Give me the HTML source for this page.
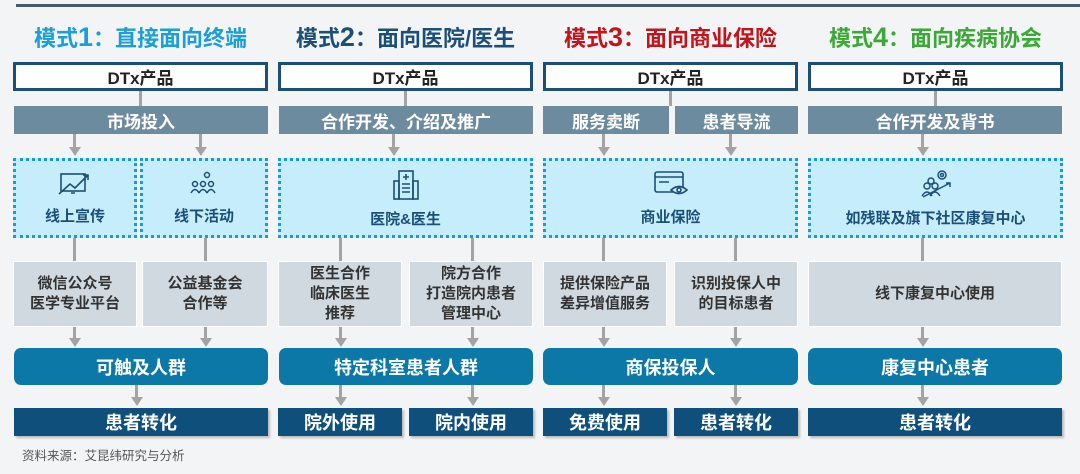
<!DOCTYPE html>
<html><head><meta charset="utf-8"><style>
*{margin:0;padding:0;box-sizing:border-box}
body{width:1080px;height:474px;background:#f3f4f6;position:relative;overflow:hidden;font-family:"Liberation Sans","Noto Sans CJK SC",sans-serif;font-weight:bold}
.a{position:absolute;display:flex;align-items:center;justify-content:center;text-align:center}
.t{font-size:22px;top:22px;height:30px}
.dtx{top:62px;height:29px;background:#fff;border:3px solid #1c4f78;color:#222;font-size:17px}
.g{top:106px;height:28px;background:#6c8b9f;color:#fff;font-size:17px}
.d{top:158px;height:80px;background:#c6edfc;border:3px dotted #1a9bd7;color:#1c4f78;font-size:15px;flex-direction:column}
.d svg{margin-bottom:8px}
.l{top:261px;height:66px;background:#cfd9df;border:1.5px solid #fff;color:#333;font-size:15px;line-height:20px}
.r{top:348px;height:37px;background:#0b78a7;border-radius:7px;color:#fff;font-size:18px}
.k{top:408px;height:28px;background:#0e4f7c;color:#fff;font-size:18px;box-shadow:2px 2px 2px #bbb}
.v{position:absolute;width:3px;background:#a3a3a3}
.h{position:absolute;width:0;height:0;border-left:6px solid transparent;border-right:6px solid transparent;border-top:9px solid #a3a3a3}
</style></head><body>
<div style="position:absolute;left:16px;top:4px;width:1064px;height:3px;background:#4a5a68"></div>

<div class="a t" style="left:13px;width:255px;color:#1a9fd9">模式<span style="font-size:27px">1</span>：直接面向终端</div>
<div class="a t" style="left:278px;width:255px;color:#1c4f78">模式<span style="font-size:27px">2</span>：面向医院/医生</div>
<div class="a t" style="left:543px;width:255px;color:#c3141c">模式<span style="font-size:27px">3</span>：面向商业保险</div>
<div class="a t" style="left:808px;width:255px;color:#3aa935">模式<span style="font-size:27px">4</span>：面向疾病协会</div>

<div class="a dtx" style="left:13px;width:255px">DTx产品</div>
<div class="a dtx" style="left:278px;width:255px">DTx产品</div>
<div class="a dtx" style="left:543px;width:255px">DTx产品</div>
<div class="a dtx" style="left:808px;width:255px">DTx产品</div>

<div class="v" style="left:139px;top:91px;height:15px"></div>
<div class="v" style="left:404px;top:91px;height:15px"></div>
<div class="v" style="left:669px;top:91px;height:15px"></div>
<div class="v" style="left:934px;top:91px;height:15px"></div>

<div class="a g" style="left:14px;width:254px">市场投入</div>
<div class="a g" style="left:279px;width:254px">合作开发、介绍及推广</div>
<div class="a g" style="left:543px;width:126px">服务卖断</div>
<div class="a g" style="left:675px;width:123px">患者导流</div>
<div class="a g" style="left:808px;width:254px">合作开发及背书</div>

<div class="v" style="left:73px;top:134px;height:14px"></div><div class="h" style="left:68.5px;top:147px"></div>
<div class="v" style="left:199px;top:134px;height:14px"></div><div class="h" style="left:194.5px;top:147px"></div>
<div class="v" style="left:392px;top:134px;height:14px"></div><div class="h" style="left:387.5px;top:147px"></div>
<div class="v" style="left:602px;top:134px;height:14px"></div><div class="h" style="left:597.5px;top:147px"></div>
<div class="v" style="left:729px;top:134px;height:14px"></div><div class="h" style="left:724.5px;top:147px"></div>
<div class="v" style="left:921px;top:134px;height:14px"></div><div class="h" style="left:916.5px;top:147px"></div>

<div class="a d" style="left:13px;width:124px">
<svg width="34" height="26" viewBox="0 0 34 26" fill="none" stroke="#1c4f78" stroke-width="1.6"><rect x="3" y="3" width="24" height="17"/><path d="M1 23 L12 13 L17 17 L30 4 M25 4 L30 4 L30 9 M13 22 L17 22"/></svg>线上宣传</div>
<div class="a d" style="left:140px;width:128px">
<svg width="32" height="26" viewBox="0 0 32 26" fill="none" stroke="#1c4f78" stroke-width="1.5"><circle cx="19" cy="4" r="2.5"/><circle cx="7" cy="13" r="2.5"/><circle cx="15" cy="13" r="2.5"/><circle cx="23" cy="13" r="2.5"/><path d="M3 22 Q7 15 11 22 M11 22 Q15 15 19 22 M19 22 Q23 15 27 22"/></svg>线下活动</div>
<div class="a d" style="left:278px;width:255px">
<svg width="28" height="32" viewBox="0 0 28 32" fill="none" stroke="#1c4f78" stroke-width="1.6"><rect x="7" y="3" width="14" height="28"/><rect x="2" y="13" width="5" height="18"/><rect x="21" y="13" width="5" height="18"/><path d="M14 6 V12 M11 9 H17 M10 16 H18 M10 20 H18 M10 24 H18"/></svg>医院&amp;医生</div>
<div class="a d" style="left:543px;width:255px">
<svg width="36" height="28" viewBox="0 0 36 28" fill="none" stroke="#1c4f78" stroke-width="1.6"><rect x="2" y="2" width="28" height="20" rx="2"/><path d="M2 7 H30 M6 12 H16"/><path d="M18 20 Q26 13 34 20 Q26 27 18 20Z" fill="#c6edfc"/><circle cx="26" cy="20" r="2"/></svg>商业保险</div>
<div class="a d" style="left:808px;width:255px">
<svg width="32" height="30" viewBox="0 0 32 30" fill="none" stroke="#1c4f78" stroke-width="1.5"><circle cx="22" cy="6" r="4"/><circle cx="22" cy="6" r="1.5"/><circle cx="11" cy="12" r="3"/><circle cx="7" cy="17" r="3"/><circle cx="15" cy="17" r="3"/><path d="M2 27 Q7 19 12 27 M10 27 Q15 19 20 27 M3 28 L30 14 M26 14 H30 V18"/></svg>如残联及旗下社区康复中心</div>

<div class="v" style="left:73px;top:238px;height:24px"></div>
<div class="v" style="left:204px;top:238px;height:24px"></div>
<div class="v" style="left:339px;top:238px;height:24px"></div>
<div class="v" style="left:471px;top:238px;height:24px"></div>
<div class="v" style="left:602px;top:238px;height:24px"></div>
<div class="v" style="left:734px;top:238px;height:24px"></div>
<div class="v" style="left:921px;top:238px;height:24px"></div>

<div class="a l" style="left:13px;width:124px">微信公众号<br>医学专业平台</div>
<div class="a l" style="left:142px;width:126px">公益基金会<br>合作等</div>
<div class="a l" style="left:278px;width:124px">医生合作<br>临床医生<br>推荐</div>
<div class="a l" style="left:409px;width:124px">院方合作<br>打造院内患者<br>管理中心</div>
<div class="a l" style="left:543px;width:124px">提供保险产品<br>差异增值服务</div>
<div class="a l" style="left:674px;width:124px">识别投保人中<br>的目标患者</div>
<div class="a l" style="left:808px;width:254px">线下康复中心使用</div>

<div class="v" style="left:73px;top:327px;height:12px"></div><div class="h" style="left:68.5px;top:338px"></div>
<div class="v" style="left:204px;top:327px;height:12px"></div><div class="h" style="left:199.5px;top:338px"></div>
<div class="v" style="left:339px;top:327px;height:12px"></div><div class="h" style="left:334.5px;top:338px"></div>
<div class="v" style="left:471px;top:327px;height:12px"></div><div class="h" style="left:466.5px;top:338px"></div>
<div class="v" style="left:602px;top:327px;height:12px"></div><div class="h" style="left:597.5px;top:338px"></div>
<div class="v" style="left:734px;top:327px;height:12px"></div><div class="h" style="left:729.5px;top:338px"></div>
<div class="v" style="left:921px;top:327px;height:12px"></div><div class="h" style="left:916.5px;top:338px"></div>

<div class="a r" style="left:14px;width:254px">可触及人群</div>
<div class="a r" style="left:279px;width:254px">特定科室患者人群</div>
<div class="a r" style="left:543px;width:255px">商保投保人</div>
<div class="a r" style="left:808px;width:254px">康复中心患者</div>

<div class="v" style="left:135px;top:385px;height:13px"></div><div class="h" style="left:130.5px;top:397px"></div>
<div class="v" style="left:339px;top:385px;height:13px"></div><div class="h" style="left:334.5px;top:397px"></div>
<div class="v" style="left:471px;top:385px;height:13px"></div><div class="h" style="left:466.5px;top:397px"></div>
<div class="v" style="left:602px;top:385px;height:13px"></div><div class="h" style="left:597.5px;top:397px"></div>
<div class="v" style="left:734px;top:385px;height:13px"></div><div class="h" style="left:729.5px;top:397px"></div>
<div class="v" style="left:921px;top:385px;height:13px"></div><div class="h" style="left:916.5px;top:397px"></div>

<div class="a k" style="left:14px;width:254px">患者转化</div>
<div class="a k" style="left:278px;width:124px">院外使用</div>
<div class="a k" style="left:409px;width:124px">院内使用</div>
<div class="a k" style="left:543px;width:124px">免费使用</div>
<div class="a k" style="left:674px;width:124px">患者转化</div>
<div class="a k" style="left:808px;width:254px">患者转化</div>

<div style="position:absolute;left:22px;top:445px;font-size:12.5px;font-weight:normal;color:#555">资料来源：艾昆纬研究与分析</div>
</body></html>
